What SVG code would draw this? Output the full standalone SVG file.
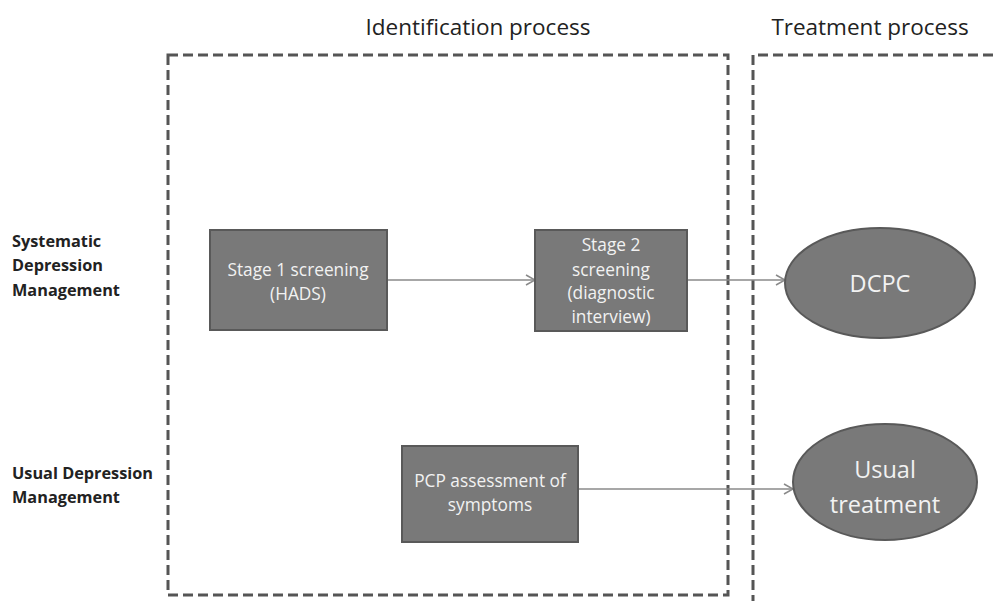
<svg xmlns="http://www.w3.org/2000/svg" width="995" height="601" viewBox="0 0 995 601">
<style>
.t{font-family:"Open Sans","Liberation Sans",sans-serif;}
.title{font-size:22.5px;fill:#222;}
.side{font-size:16.3px;font-weight:bold;fill:#222;}
.box{fill:#797979;stroke:#595959;stroke-width:2;}
.lbl{font-size:17.3px;fill:#f2f2f2;text-anchor:middle;}
.big{font-size:23.5px;fill:#f2f2f2;text-anchor:middle;}
.dash{fill:none;stroke:#555;stroke-width:3;stroke-dasharray:10,5;}
.conn{stroke:#8a8a8a;stroke-width:1.5;fill:none;marker-end:url(#ah);}
</style>
<defs>
<marker id="ah" markerWidth="12" markerHeight="12" refX="10" refY="6" orient="auto" markerUnits="userSpaceOnUse">
<path d="M1,1 L10,6 L1,11" fill="none" stroke="#8a8a8a" stroke-width="1.5"/>
</marker>
</defs>
<rect width="995" height="601" fill="#fff"/>
<g id="frames">
<rect class="dash" x="168" y="55" width="560" height="540"/>
<path class="dash" d="M753,605 L753,55 L1000,55"/>
</g>
<g id="titles">
<text class="title t" x="478" y="35" text-anchor="middle">Identification process</text>
<text class="title t" x="870" y="35" text-anchor="middle">Treatment process</text>
</g>
<g id="rowlabels">
<text class="t side" x="12" y="247">Systematic</text>
<text class="t side" x="12" y="271">Depression</text>
<text class="t side" x="12" y="296">Management</text>
<text class="t side" x="12" y="479">Usual Depression</text>
<text class="t side" x="12" y="503">Management</text>
</g>
<g id="connectors">
<line class="conn" x1="387" y1="280" x2="535" y2="280"/>
<line class="conn" x1="687" y1="280" x2="785" y2="280"/>
<line class="conn" x1="578" y1="489" x2="793" y2="489"/>
</g>
<g id="stage1">
<rect class="box" x="210" y="230" width="177" height="100"/>
<text class="t lbl" x="298" y="276">Stage 1 screening</text>
<text class="t lbl" x="298" y="300">(HADS)</text>
</g>
<g id="stage2">
<rect class="box" x="535" y="230" width="152" height="101"/>
<text class="t lbl" x="611" y="251">Stage 2</text>
<text class="t lbl" x="611" y="276">screening</text>
<text class="t lbl" x="611" y="299">(diagnostic</text>
<text class="t lbl" x="611" y="323">interview)</text>
</g>
<g id="pcp">
<rect class="box" x="402" y="446" width="176" height="96"/>
<text class="t lbl" x="490" y="487">PCP assessment of</text>
<text class="t lbl" x="490" y="511">symptoms</text>
</g>
<g id="dcpc">
<ellipse class="box" cx="880" cy="283" rx="95" ry="55"/>
<text class="t big" x="880" y="292">DCPC</text>
</g>
<g id="usual">
<ellipse class="box" cx="885" cy="482" rx="92" ry="58"/>
<text class="t big" x="885" y="478">Usual</text>
<text class="t big" x="885" y="513">treatment</text>
</g>
</svg>
